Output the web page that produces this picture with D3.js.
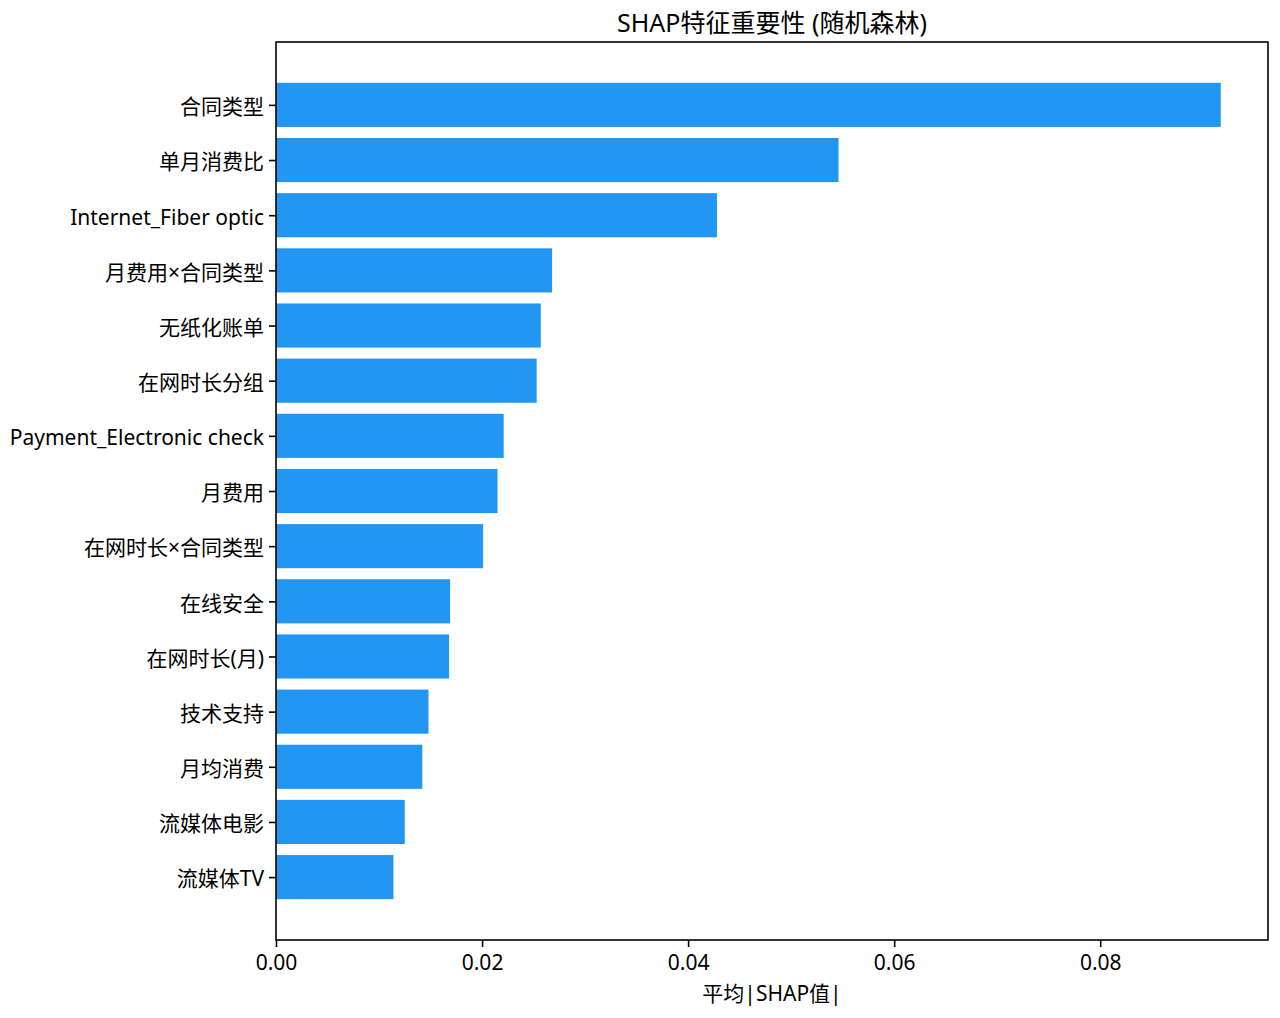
<!DOCTYPE html>
<html>
<head>
<meta charset="utf-8">
<title>SHAP特征重要性 (随机森林)</title>
<script src="https://d3js.org/d3.v7.min.js"></script>
<style>
  body { margin: 0; background: #fff; }
  svg text { font-family: "Noto Sans", "Noto Sans CJK SC", sans-serif; fill: #000; }
</style>
</head>
<body>
<svg id="chart" width="1280" height="1018"></svg>
<script>
// features, top to bottom
var features = ["合同类型", "单月消费比", "Internet_Fiber optic", "月费用×合同类型", "无纸化账单",
  "在网时长分组", "Payment_Electronic check", "月费用", "在网时长×合同类型", "在线安全",
  "在网时长(月)", "技术支持", "月均消费", "流媒体电影", "流媒体TV"];
var shapValues = [0.0917, 0.0546, 0.0428, 0.0268, 0.0257, 0.0253, 0.0221, 0.0215, 0.0201,
  0.0169, 0.0168, 0.0148, 0.0142, 0.0125, 0.0114];
var xTicks = [0, 0.02, 0.04, 0.06, 0.08];

var plotL = 276, plotR = 1268, plotT = 42, plotB = 940;
var svg = d3.select("#chart");

var xMax = d3.max(shapValues) * 1.05;
var x = d3.scaleLinear().domain([0, xMax]).range([plotL, plotR]);
// matplotlib-style barh: index 0 at top, bar height 0.8, 5% margins
var n = features.length;
var pad = (n - 1 + 0.8) * 0.05 + 0.4;
var y = d3.scaleLinear().domain([-pad, n - 1 + pad]).range([plotT, plotB]);

svg.append("g").selectAll("rect").data(features).enter().append("rect")
  .attr("x", x(0))
  .attr("y", function(d, i) { return y(i - 0.4); })
  .attr("width", function(d, i) { return x(shapValues[i]) - x(0); })
  .attr("height", function(d, i) { return y(i + 0.4) - y(i - 0.4); })
  .attr("fill", "#2196F3");

// x axis
var xAxis = svg.append("g")
  .attr("transform", "translate(0," + plotB + ")")
  .call(d3.axisBottom(x).tickValues(xTicks).tickFormat(d3.format(".2f")).tickSize(7).tickPadding(8));
xAxis.select(".domain").remove();
xAxis.selectAll("line").attr("stroke", "#000").attr("stroke-width", 1.6);
xAxis.selectAll("text").attr("font-size", 21);

// y axis
var yAxis = svg.append("g")
  .attr("transform", "translate(" + plotL + ",0)")
  .call(d3.axisLeft(y).tickValues(d3.range(n)).tickFormat(function(i) { return features[i]; }).tickSize(7).tickPadding(5));
yAxis.select(".domain").remove();
yAxis.selectAll("line").attr("stroke", "#000").attr("stroke-width", 1.6);
yAxis.selectAll("text").attr("font-size", 21).attr("dy", "0.42em");

// frame
svg.append("rect")
  .attr("x", plotL).attr("y", plotT)
  .attr("width", plotR - plotL).attr("height", plotB - plotT)
  .attr("fill", "none").attr("stroke", "#000").attr("stroke-width", 1.6);

svg.append("text")
  .attr("x", (plotL + plotR) / 2).attr("y", 32)
  .attr("text-anchor", "middle").attr("font-size", 25)
  .text("SHAP特征重要性 (随机森林)");

svg.append("text")
  .attr("x", (plotL + plotR) / 2).attr("y", 1001)
  .attr("text-anchor", "middle").attr("font-size", 21)
  .text("平均|SHAP值|");
</script>
</body>
</html>
